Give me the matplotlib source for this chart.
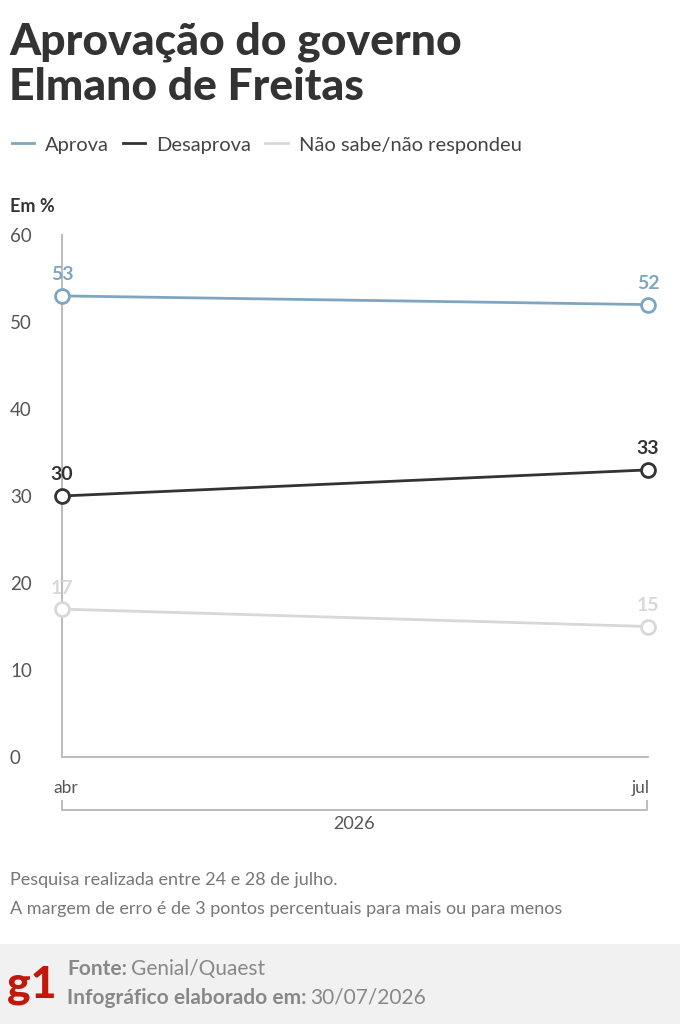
import matplotlib
matplotlib.use("Agg")
import matplotlib.pyplot as plt

plt.rcParams['font.family'] = ['Lato', 'DejaVu Sans']

# dados
meses = ['abr', 'jul']
series = ['Aprova', 'Desaprova', 'Não sabe/não respondeu']
valores = {
    'Aprova': [53, 52],
    'Desaprova': [30, 33],
    'Não sabe/não respondeu': [17, 15],
}
cores = {
    'Aprova': '#7ea6c2',
    'Desaprova': '#333333',
    'Não sabe/não respondeu': '#d8d8d8',
}
yticks = [0, 10, 20, 30, 40, 50, 60]

W, H = 680, 1024
fig = plt.figure(figsize=(W / 100, H / 100), dpi=100)

def fx(x):
    return x / W

def fy(y):
    return 1 - y / H

# eixo principal (pixels: x 62..648, y 757..235)
ax = fig.add_axes([fx(62), fy(757), fx(648) - fx(62), fy(235) - fy(757)])
x = list(range(len(meses)))
for s in series:
    ax.plot(x, valores[s], color=cores[s], lw=2, label=s, clip_on=False, zorder=3)
    ax.plot(x, valores[s], 'o', ms=10, mfc='white', mec=cores[s], mew=2,
            clip_on=False, zorder=4)
    for xi, v in zip(x, valores[s]):
        ax.annotate(str(v), (xi, v), xytext=(0, 9), textcoords='offset points',
                    ha='center', va='bottom', fontsize=14, fontweight='bold',
                    color=cores[s])

ax.set_xlim(0, 1)
ax.set_ylim(0, 60)
for sp in ['top', 'right']:
    ax.spines[sp].set_visible(False)
ax.spines['left'].set_color('#bdbdbd')
ax.spines['bottom'].set_color('#bdbdbd')
ax.spines['left'].set_linewidth(1.5)
ax.spines['bottom'].set_linewidth(1.5)
ax.set_yticks(yticks)
ax.set_yticklabels([str(t) for t in yticks])
ax.tick_params(axis='y', length=0, pad=0, labelsize=13.5, labelcolor='#555555')
for lab in ax.get_yticklabels():
    lab.set_horizontalalignment('left')
    lab.set_x(-52 / 586)
ax.set_xticks([])

# rótulos do eixo x
fig.text(fx(53), fy(788), meses[0], ha='left', va='center', fontsize=12.5, color='#555555')
fig.text(fx(650), fy(788), meses[1], ha='right', va='center', fontsize=12.5, color='#555555')
# colchete do ano
fig.add_artist(plt.Line2D([fx(62), fx(62), fx(647), fx(647)],
                          [fy(801), fy(810), fy(810), fy(801)],
                          color='#bdbdbd', lw=1.5))
fig.text(fx(354), fy(824), '2026', ha='center', va='center', fontsize=13, color='#555555')

# título
fig.text(fx(9), fy(42), 'Aprovação do governo', ha='left', va='center',
         fontsize=32, fontweight='black', color='#333333')
fig.text(fx(9), fy(87), 'Elmano de Freitas', ha='left', va='center',
         fontsize=32, fontweight='black', color='#333333')

# legenda
fig.legend(loc='center left', bbox_to_anchor=(fx(12), fy(145)), ncol=3, frameon=False,
           fontsize=14.5, handlelength=1.1, handletextpad=0.55, columnspacing=0.7,
           borderpad=0, borderaxespad=0, labelcolor='#444444')

fig.text(fx(10), fy(207), 'Em %', ha='left', va='center', fontsize=13,
         fontweight='bold', color='#333333')

# notas
fig.text(fx(10), fy(880), 'Pesquisa realizada entre 24 e 28 de julho.', ha='left',
         va='center', fontsize=13, color='#777777')
fig.text(fx(10), fy(909), 'A margem de erro é de 3 pontos percentuais para mais ou para menos',
         ha='left', va='center', fontsize=13, color='#777777')

# rodapé
fig.add_artist(plt.Rectangle((0, 0), 1, fy(944), transform=fig.transFigure,
                             facecolor='#f1f1f1', edgecolor='none', zorder=0))
fig.text(fx(7), fy(985), 'g1', ha='left', va='center', fontsize=32, fontweight='black',
         color='#c4170c')

def rodape(y, negrito, normal):
    t = fig.text(fx(67), fy(y), negrito, ha='left', va='center', fontsize=15,
                 fontweight='bold', color='#888888')
    fig.canvas.draw()
    bb = t.get_window_extent()
    fig.text(fx(bb.x1 + 4), fy(y), normal, ha='left', va='center', fontsize=15,
             color='#888888')

rodape(969, 'Fonte:', 'Genial/Quaest')
rodape(998, 'Infográfico elaborado em:', '30/07/2026')

fig.savefig('out.png', dpi=100)
